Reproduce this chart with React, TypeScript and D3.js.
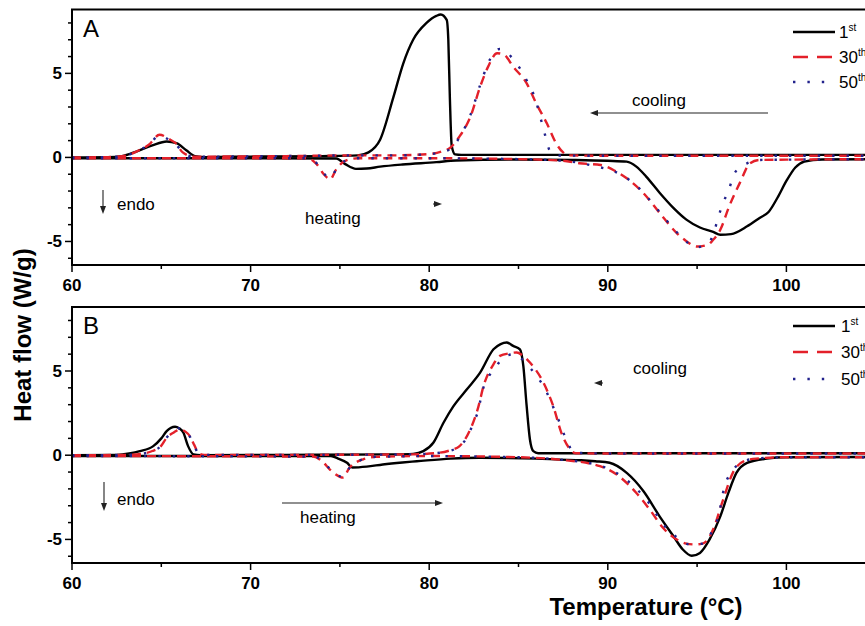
import React from 'react';
import * as d3 from 'd3';

type P = [number, number];

// ---------- tick values ----------
const xTicksMajor = [60, 70, 80, 90, 100];
const xTicksMinor = [65, 75, 85, 95, 105];
const yTicksMajor = [-5, 0, 5];
const yTicksMinor = [-6, -4, -3, -2, -1, 1, 2, 3, 4, 6, 7, 8];

const legendBase = ['1', '30', '50'];
const legendSup = ['st', 'th', 'th'];

// ---------- Panel A (temperature °C, heat flow W/g) ----------
const A_1st_cooling: P[] = [
  [60, 0.0], [62, 0.02], [62.8, 0.08], [63.6, 0.35], [64.5, 0.72], [65.3, 0.95], [65.85, 0.85],
  [66.4, 0.42], [66.9, 0.08], [67.5, 0.02], [70, 0.05], [74, 0.08], [76, 0.12], [76.6, 0.3],
  [77.25, 1.05], [78.0, 3.6], [78.55, 5.6], [79.1, 7.0], [79.85, 8.0], [80.4, 8.42], [80.65, 8.5],
  [80.98, 8.18], [81.07, 7.0], [81.16, 3.45], [81.26, 0.7], [81.45, 0.18], [81.8, 0.15], [90, 0.15],
  [100, 0.15], [106, 0.15],
];
const A_1st_heating: P[] = [
  [60, -0.05], [70, -0.05], [74.8, -0.06], [75.3, -0.4], [75.9, -0.68], [76.5, -0.66], [77.25, -0.55],
  [78.5, -0.42], [80.4, -0.28], [81.5, -0.18], [85, -0.12], [88, -0.15], [90, -0.2], [91.06, -0.25],
  [91.6, -0.55], [92.15, -1.14], [92.9, -2.1], [93.67, -3.0], [94.4, -3.7], [95.16, -4.17], [95.9, -4.43],
  [96.3, -4.6], [96.9, -4.56], [97.8, -4.1], [98.5, -3.6], [99.0, -3.25], [99.5, -2.4], [100.0, -1.4],
  [100.5, -0.6], [101, -0.25], [102, -0.12], [106, -0.1],
];
const A_30th_cooling: P[] = [
  [60, 0.0], [62, 0.02], [63, 0.1], [63.6, 0.35], [64.3, 0.75], [64.9, 1.35], [65.5, 1.05], [65.8, 0.85],
  [66.2, 0.3], [66.8, 0.05], [68, 0.05], [72, 0.08], [76, 0.12], [78, 0.12], [80, 0.2], [80.7, 0.35],
  [81.2, 0.6], [81.7, 1.25], [82.3, 2.4], [82.85, 4.2], [83.3, 5.4], [83.8, 6.2], [84.2, 6.1], [84.7, 5.4],
  [85.46, 4.4], [86.0, 3.2], [86.6, 2.0], [87.1, 0.85], [87.5, 0.3], [87.8, 0.12], [90, 0.1], [106, 0.1],
];
const A_30th_heating: P[] = [
  [60, -0.05], [73.2, -0.05], [73.7, -0.4], [74.1, -1.0], [74.45, -1.3], [74.8, -0.7], [75.3, -0.2],
  [76, -0.05], [80, -0.05], [85, -0.1], [87.5, -0.2], [88.4, -0.35], [89.6, -0.45], [90.4, -0.8],
  [91.06, -1.24], [92.0, -2.13], [92.9, -3.3], [93.86, -4.5], [94.3, -4.9], [94.98, -5.3], [95.6, -5.2],
  [95.9, -4.9], [96.3, -4.3], [96.8, -2.9], [97.4, -1.5], [97.96, -0.35], [98.5, -0.15], [106, -0.1],
];
const A_50th_cooling: P[] = [
  [60, 0.0], [62, 0.02], [63, 0.1], [63.6, 0.35], [64.3, 0.75], [64.9, 1.3], [65.5, 1.0], [65.8, 0.8],
  [66.2, 0.3], [66.8, 0.05], [68, 0.05], [72, 0.08], [76, 0.12], [78, 0.12], [80, 0.2], [80.7, 0.32],
  [81.2, 0.5], [81.7, 1.2], [82.3, 2.5], [82.85, 4.3], [83.3, 5.6], [83.6, 6.2], [83.95, 6.45], [84.7, 5.85],
  [85.5, 4.5], [85.9, 3.6], [86.35, 1.9], [86.8, 0.3], [87.1, 0.12], [90, 0.1], [106, 0.1],
];
const A_50th_heating: P[] = [
  [60, -0.05], [73.2, -0.05], [73.7, -0.35], [74.1, -0.95], [74.45, -1.25], [74.8, -0.7], [75.3, -0.2],
  [76, -0.05], [80, -0.05], [85, -0.1], [87.5, -0.2], [89.2, -0.5], [90.7, -1.0], [91.4, -1.5], [92.0, -2.1],
  [92.55, -2.8], [93.1, -3.5], [93.65, -4.2], [94.2, -4.8], [94.9, -5.35], [95.5, -5.2], [95.9, -4.6],
  [96.2, -3.5], [96.5, -2.6], [96.8, -1.85], [97.05, -1.04], [97.4, -0.6], [97.8, -0.35], [98.5, -0.15],
  [106, -0.1],
];

// ---------- Panel B ----------
const B_1st_cooling: P[] = [
  [60, 0.0], [62.5, 0.02], [63.2, 0.1], [63.8, 0.24], [64.55, 0.54], [65.0, 1.0], [65.3, 1.43],
  [65.77, 1.69], [66.0, 1.6], [66.24, 1.33], [66.5, 0.54], [66.8, 0.05], [67.2, 0.0], [72, 0.02],
  [78, 0.05], [79.1, 0.08], [79.67, 0.24], [80.23, 0.74], [80.8, 1.93], [81.35, 2.9], [82.1, 3.9],
  [82.85, 4.9], [83.6, 6.29], [84.0, 6.6], [84.34, 6.69], [84.7, 6.49], [85.08, 6.29], [85.27, 5.3],
  [85.45, 3.0], [85.64, 0.93], [85.83, 0.24], [86.1, 0.12], [106, 0.12],
];
const B_1st_heating: P[] = [
  [60, -0.05], [74.5, -0.05], [74.9, -0.2], [75.4, -0.45], [75.7, -0.73], [76.5, -0.68], [77.4, -0.55],
  [78.5, -0.43], [79.3, -0.36], [81.2, -0.2], [82.8, -0.15], [86, -0.2], [87.3, -0.26], [88.5, -0.3],
  [89.3, -0.36], [90.1, -0.45], [91.06, -1.05], [92.0, -2.14], [92.9, -3.63], [93.67, -4.8], [94.2, -5.6],
  [94.7, -5.97], [95.16, -5.8], [95.7, -5.0], [96.3, -3.63], [96.75, -2.24], [97.2, -1.05], [97.8, -0.45],
  [98.9, -0.2], [100, -0.12], [106, -0.1],
];
const B_30th_cooling: P[] = [
  [60, 0.0], [63, 0.02], [64, 0.1], [64.5, 0.25], [64.98, 0.54], [65.3, 1.03], [65.7, 1.35], [66.05, 1.53],
  [66.35, 1.4], [66.6, 1.13], [66.85, 0.6], [67.07, 0.14], [67.4, 0.02], [72, 0.02], [79, 0.05],
  [80.6, 0.15], [81.2, 0.3], [81.7, 0.54], [82.3, 1.53], [82.76, 2.9], [83.04, 4.1], [83.6, 5.4],
  [83.96, 5.9], [84.5, 6.05], [84.9, 6.1], [85.2, 5.95], [85.64, 5.5], [86.4, 4.3], [86.95, 2.9],
  [87.4, 1.33], [87.9, 0.34], [88.2, 0.12], [90, 0.1], [106, 0.1],
];
const B_30th_heating: P[] = [
  [60, -0.05], [73.5, -0.08], [74.0, -0.35], [74.44, -0.85], [75.2, -1.33], [75.5, -0.8], [76.3, -0.24],
  [77, -0.1], [80, -0.05], [85, -0.12], [87.3, -0.26], [89.56, -0.65], [90.5, -1.15], [91.6, -2.24],
  [92.35, -3.23], [93.1, -4.32], [93.86, -5.0], [94.4, -5.25], [94.9, -5.3], [95.3, -5.25], [95.6, -5.0],
  [95.9, -4.4], [96.47, -2.6], [97.0, -1.05], [97.6, -0.36], [98.3, -0.2], [100, -0.12], [106, -0.12],
];
const B_50th_cooling: P[] = [
  [60, 0.0], [63, 0.02], [64, 0.1], [64.5, 0.25], [64.98, 0.55], [65.3, 1.05], [65.7, 1.4], [66.0, 1.6],
  [66.35, 1.4], [66.6, 1.1], [66.85, 0.55], [67.07, 0.12], [67.4, 0.02], [72, 0.02], [79, 0.05],
  [80.6, 0.15], [81.5, 0.4], [82.2, 1.23], [82.5, 2.0], [82.76, 2.7], [82.95, 3.7], [83.7, 5.2], [84.3, 5.9],
  [84.8, 6.0], [85.2, 5.7], [85.64, 5.2], [86.5, 3.9], [87.2, 2.2], [87.8, 0.64], [88.1, 0.15], [90, 0.1],
  [106, 0.1],
];
const B_50th_heating: P[] = [
  [60, -0.05], [73.5, -0.08], [74.0, -0.3], [74.44, -0.8], [75.2, -1.3], [75.5, -0.8], [76.3, -0.24],
  [77, -0.1], [80, -0.05], [85, -0.12], [87.3, -0.26], [89.5, -0.6], [91.2, -1.6], [92.35, -2.9],
  [93.1, -4.1], [93.9, -4.9], [94.6, -5.3], [95.3, -5.25], [95.8, -4.6], [96.2, -3.6], [96.5, -2.0],
  [97.0, -0.9], [97.6, -0.36], [98.3, -0.2], [100, -0.12], [106, -0.12],
];

// ---------- styles ----------
const STYLES = [
  { stroke: '#000000', dash: undefined as string | undefined, width: 2.4, legendDash: undefined as string | undefined },
  { stroke: '#e3202a', dash: '9,6', width: 2.4, legendDash: '15,9' },
  { stroke: '#22228c', dash: '2.4,12', width: 2.4, legendDash: '2.4,12' },
];

const FONT = "'Liberation Sans', Arial, Helvetica, sans-serif";

const X0 = 72;
const PX = 17.86;
const x = d3.scaleLinear().domain([60, 106]).range([X0, X0 + 46 * PX]);
const Y_DOMAIN: [number, number] = [-6.4, 8.8];

const panels = [
  {
    key: 'A', top: 9.5, bottom: 265,
    curves: [[A_1st_heating, A_1st_cooling], [A_30th_heating, A_30th_cooling], [A_50th_heating, A_50th_cooling]],
  },
  {
    key: 'B', top: 307, bottom: 563,
    curves: [[B_1st_heating, B_1st_cooling], [B_30th_heating, B_30th_cooling], [B_50th_heating, B_50th_cooling]],
  },
];

function Arrow({ x1, y1, x2, y2 }: { x1: number; y1: number; x2: number; y2: number }) {
  const ang = Math.atan2(y2 - y1, x2 - x1);
  const L = 8, Wd = 3;
  const bx = x2 - L * Math.cos(ang), by = y2 - L * Math.sin(ang);
  const px = -Math.sin(ang) * Wd, py = Math.cos(ang) * Wd;
  return (
    <g>
      <line x1={x1} y1={y1} x2={bx} y2={by} stroke="#222" strokeWidth={1.1} />
      <polygon points={`${x2},${y2} ${bx + px},${by + py} ${bx - px},${by - py}`} fill="#222" />
    </g>
  );
}

export default function App() {
  const W = 865, H = 626;
  return (
    <svg width={W} height={H} style={{ display: 'block', position: 'absolute', left: 0, top: 0, background: '#fff' }}
      fontFamily={FONT}>
      <rect x={0} y={0} width={W} height={H} fill="#fff" />
      <defs>
        {panels.map((p) => (
          <clipPath id={`clip${p.key}`} key={p.key}>
            <rect x={x(60)} y={p.top} width={x(106) - x(60)} height={p.bottom - p.top} />
          </clipPath>
        ))}
      </defs>
      {panels.map((p, pi) => {
        const y = d3.scaleLinear().domain(Y_DOMAIN).range([p.bottom, p.top]);
        const line = d3.line<P>().x((d) => x(d[0])).y((d) => y(d[1])).curve(d3.curveMonotoneX);
        const legendYs = pi === 0 ? [32, 57, 82] : [326, 352, 379];
        return (
          <g key={p.key}>
            <g clipPath={`url(#clip${p.key})`}>
              {p.curves.map((pair, si) =>
                pair.map((data, k) => (
                  <path key={`${si}-${k}`} d={line(data) || ''} fill="none" stroke={STYLES[si].stroke}
                    strokeWidth={STYLES[si].width} strokeDasharray={STYLES[si].dash} strokeLinejoin="round" />
                ))
              )}
            </g>
            <rect x={x(60)} y={p.top} width={x(106) - x(60)} height={p.bottom - p.top} fill="none" stroke="#000" strokeWidth={2} />
            {xTicksMajor.map((t) => (
              <g key={`xm${t}`}>
                <line x1={x(t)} x2={x(t)} y1={p.bottom} y2={p.bottom + 7} stroke="#000" strokeWidth={1.5} />
                <text x={x(t)} y={p.bottom + 26} textAnchor="middle" fontSize={17} fontWeight="bold">{t}</text>
              </g>
            ))}
            {xTicksMinor.map((t) => (
              <line key={`xn${t}`} x1={x(t)} x2={x(t)} y1={p.bottom} y2={p.bottom + 4} stroke="#000" strokeWidth={1.5} />
            ))}
            {yTicksMajor.map((t) => (
              <g key={`ym${t}`}>
                <line x1={x(60) - 7} x2={x(60)} y1={y(t)} y2={y(t)} stroke="#000" strokeWidth={1.5} />
                <text x={x(60) - 10} y={y(t) + 6} textAnchor="end" fontSize={17} fontWeight="bold">{t}</text>
              </g>
            ))}
            {yTicksMinor.map((t) => (
              <line key={`yn${t}`} x1={x(60) - 4} x2={x(60)} y1={y(t)} y2={y(t)} stroke="#000" strokeWidth={1.5} />
            ))}
            <text x={83} y={p.top + 27} fontSize={24}>{p.key}</text>
            {STYLES.map((s, si) => (
              <g key={`lg${si}`}>
                <line x1={793} x2={835} y1={legendYs[si]} y2={legendYs[si]} stroke={s.stroke} strokeWidth={2.4}
                  strokeDasharray={s.legendDash} />
                <text x={pi === 0 ? 839 : 841} y={legendYs[si] + 6} fontSize={17}>
                  {legendBase[si]}
                  <tspan fontSize={10} dy={-7}>{legendSup[si]}</tspan>
                </text>
              </g>
            ))}
          </g>
        );
      })}
      <text x={632} y={106} fontSize={17}>cooling</text>
      <Arrow x1={768} y1={113} x2={590} y2={113} />
      <text x={305} y={224} fontSize={17}>heating</text>
      <Arrow x1={433} y1={204} x2={442} y2={204} />
      <Arrow x1={103} y1={190} x2={103} y2={214} />
      <text x={117} y={210} fontSize={17}>endo</text>
      <text x={633} y={374} fontSize={17}>cooling</text>
      <Arrow x1={603} y1={383} x2={594} y2={383} />
      <text x={300} y={523} fontSize={17}>heating</text>
      <Arrow x1={282} y1={503} x2={443} y2={503} />
      <Arrow x1={104} y1={482} x2={104} y2={511} />
      <text x={117} y={505} fontSize={17}>endo</text>
      <text x={646} y={615} textAnchor="middle" fontSize={24} fontWeight="bold">Temperature (°C)</text>
      <text transform="translate(31,335) rotate(-90)" textAnchor="middle" fontSize={24} fontWeight="bold">Heat flow (W/g)</text>
    </svg>
  );
}
